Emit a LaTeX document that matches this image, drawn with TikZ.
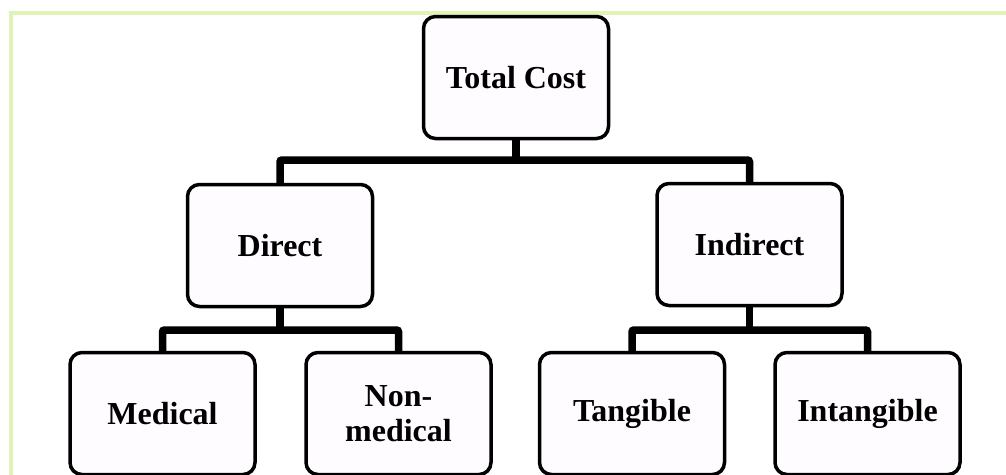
\documentclass[tikz,border=0pt]{standalone}
\usepackage{fontspec}
\setmainfont{Liberation Serif}
\definecolor{framegreen}{HTML}{DFF4B6}
\definecolor{boxfill}{HTML}{FFFCFF}
\tikzset{
  costbox/.style={draw=black, line width=3.5pt, rounded corners=12pt, fill=boxfill,
    minimum width=185pt, minimum height=122pt, align=center, inner sep=0pt,
    font=\fontsize{32}{35}\selectfont\bfseries},
  bus/.style={draw=black, line width=7.5pt, rounded corners=2pt},
  busshadow/.style={draw=black!25, line width=9pt, opacity=0.5}
}
\begin{document}
\begin{tikzpicture}[x=1pt, y=-1pt]
\useasboundingbox (0,0) rectangle (1006,474);
\clip (0,0) rectangle (1006,474);
\fill[white] (0,0) rectangle (1006,474);
% frame
\draw[framegreen, line width=4pt] (11,13) rectangle (1030,500);
% coordinates of the buses
\coordinate (b1) at (516,160);
\coordinate (b2) at (280,330);
\coordinate (b3) at (749.5,330);
% nodes
\node[costbox] (tc)  at (516,77.5)    {Total Cost};
\node[costbox] (dir) at (280,245.5)   {Direct};
\node[costbox] (ind) at (749.5,244.5) {Indirect};
\node[costbox] (med) at (162.5,413.5) {Medical};
\node[costbox] (non) at (398.5,413.5) {Non-\\medical};
\node[costbox] (tan) at (632,413.5)   {Tangible};
\node[costbox] (int) at (867.5,413.5) {Intangible};
% connectors
\draw[bus] (tc.south) -- (b1);
\draw[bus] (dir.north) |- (b1) -| (ind.north);
\draw[bus] (dir.south) -- (b2);
\draw[bus] (med.north) |- (b2) -| (non.north);
\draw[bus] (ind.south) -- (b3);
\draw[bus] (tan.north) |- (b3) -| (int.north);
\end{tikzpicture}
\end{document}
